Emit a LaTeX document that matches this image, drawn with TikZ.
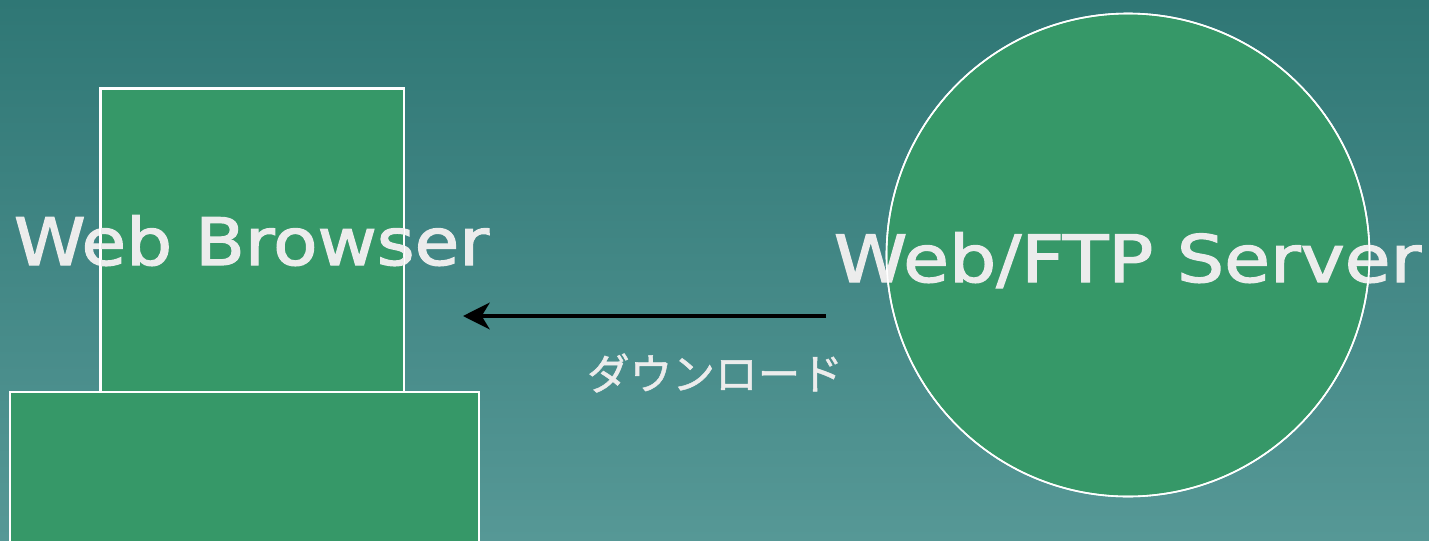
\documentclass[tikz,border=0pt]{standalone}
\usepackage{fontspec}
\setmainfont{DejaVu Sans}[FakeBold=1.9]
\newfontfamily\jpfont{Noto Sans CJK JP}[FakeBold=1.2]
\usetikzlibrary{arrows.meta}
\definecolor{bgtop}{RGB}{47,119,117}
\definecolor{bgbottom}{RGB}{86,152,150}
\definecolor{boxgreen}{RGB}{54,152,104}
\definecolor{labelgray}{RGB}{236,236,236}
\tikzset{
  shapefill/.style={fill=boxgreen, draw=white, line width=1.2pt},
  outline/.style={draw=white, line width=1.2pt},
  biglabel/.style={text=labelgray, font=\fontsize{49}{56}\selectfont, inner sep=0pt, anchor=base},
  smalllabel/.style={text=labelgray, font=\jpfont\fontsize{32}{36}\selectfont, inner sep=0pt},
  flow/.style={line width=3pt, black, -{Stealth[length=20pt,width=20pt,inset=6pt]}}
}
\begin{document}
\begin{tikzpicture}[x=0.75pt,y=-0.75pt]
  \useasboundingbox (0,0) rectangle (1429,540);
  % backdrop
  \shade[top color=bgtop, bottom color=bgbottom] (0,0) rectangle (1429,540);
  % client machine: base block (runs off the bottom edge) and window
  \begin{scope}
    \clip (0,0) rectangle (1429,540);
    \node[shapefill, minimum width=469*0.75pt, minimum height=170*0.75pt, inner sep=0pt, anchor=north west] (base) at (9,391) {};
  \end{scope}
  \node[shapefill, minimum width=303*0.75pt, minimum height=303*0.75pt, inner sep=0pt, anchor=north west] (browser) at (100,88) {};
  % server
  \node[shapefill, circle, minimum size=483*0.75pt, inner sep=0pt] (server) at (1128,255) {};
  % labels
  \node[biglabel] (browserlabel) at (251.5,265) {\scalebox{1.11}[1]{Web Browser}};
  \node[biglabel] (serverlabel) at (1127.5,282) {\scalebox{1.14}[1]{Web/FTP Server}};
  \node[smalllabel] (dl) at (715,373) {ダウンロード};
  % outlines stay on top of the labels
  \draw[outline] (browser.south west) rectangle (browser.north east);
  \draw[outline] (server.center) circle[radius=241.5*0.75pt];
  % download arrow
  \coordinate (from) at (826,316);
  \coordinate (to) at (463,316);
  \draw[flow] (from) -- (to);
\end{tikzpicture}
\end{document}
